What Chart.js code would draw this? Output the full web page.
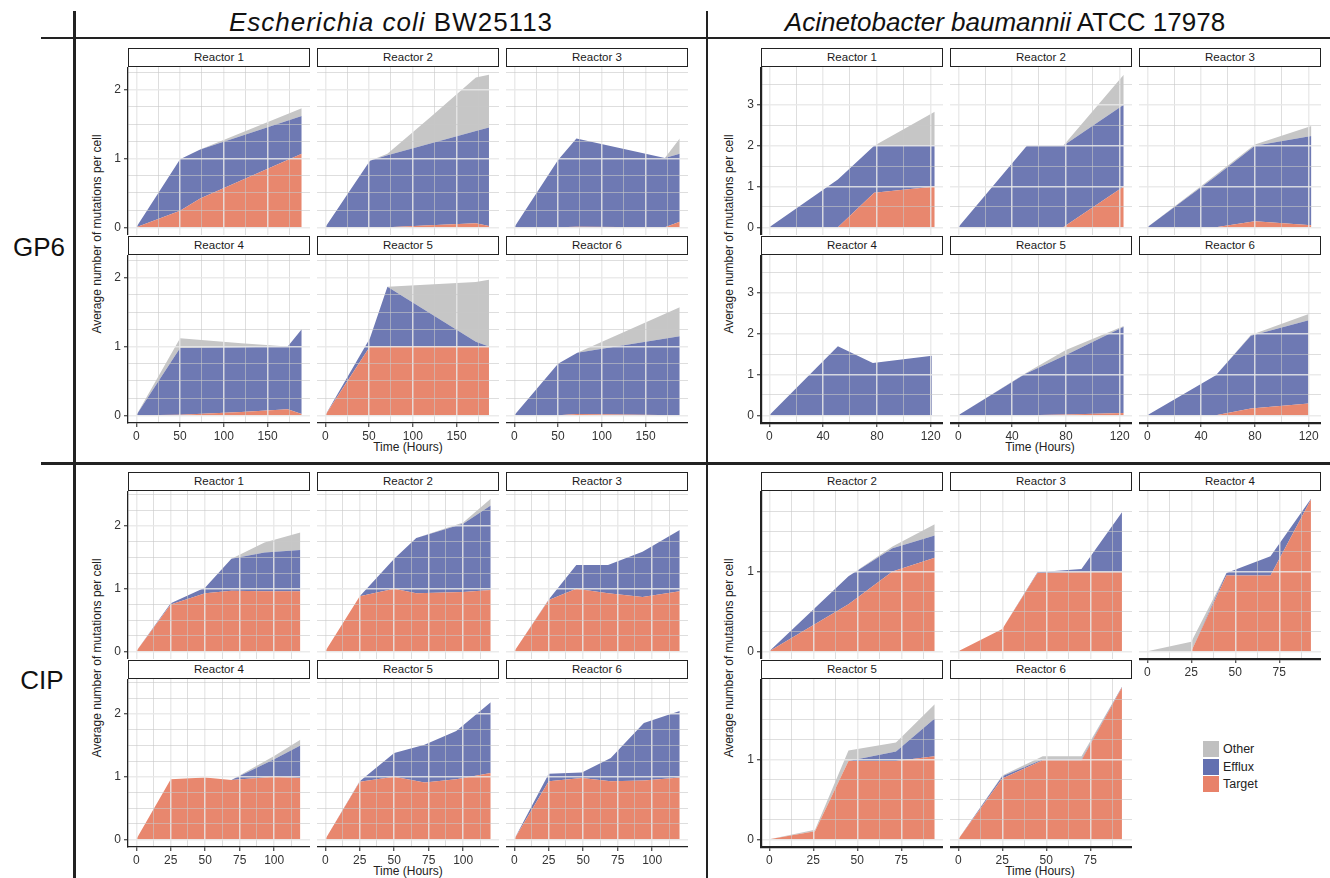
<!DOCTYPE html>
<html>
<head>
<meta charset="utf-8">
<script src="https://cdn.jsdelivr.net/npm/chart.js@4/dist/chart.umd.min.js"></script>
<style>
  body { margin: 0; background: #fff; font-family: "Liberation Sans", Arial, sans-serif; }
  #page { position: relative; width: 1330px; height: 878px; overflow: hidden; }
  .rule { position: absolute; background: #222; }
  .strip { position: absolute; box-sizing: border-box; border: 1.4px solid #222; background: #fff;
           font-size: 11.5px; color: #1a1a1a; text-align: center; line-height: 16px; }
  .title { position: absolute; font-size: 26px; color: #111; white-space: nowrap; transform: translate(-50%, -50%); }
  .ylab { position: absolute; font-size: 12px; color: #222; white-space: nowrap; transform: translate(-50%, -50%) rotate(-90deg); }
  .xlab { position: absolute; font-size: 12px; color: #222; white-space: nowrap; transform: translate(-50%, -50%); }
  .key { position: absolute; width: 16px; height: 16px; }
  .keytext { position: absolute; font-size: 12.5px; color: #222; line-height: 16px; }
  canvas { position: absolute; }
</style>
</head>
<body>
<div id="page">
  <div class="rule" style="left:73px;top:11px;width:2.7px;height:867px"></div>
  <div class="rule" style="left:705.5px;top:11px;width:2.5px;height:867px"></div>
  <div class="rule" style="left:41px;top:37.3px;width:1289px;height:2px"></div>
  <div class="rule" style="left:41px;top:462.3px;width:1289px;height:2.7px"></div>

  <div class="title" style="left:391px;top:22px;letter-spacing:1px"><i>Escherichia coli</i> BW25113</div>
  <div class="title" style="left:1005px;top:22px"><i>Acinetobacter baumannii</i> ATCC 17978</div>
  <div class="title" style="left:39px;top:247px">GP6</div>
  <div class="title" style="left:42px;top:680px">CIP</div>

  <div class="ylab" style="left:97px;top:234px">Average number of mutations per cell</div>
  <div class="ylab" style="left:729px;top:234px">Average number of mutations per cell</div>
  <div class="ylab" style="left:97px;top:658px">Average number of mutations per cell</div>
  <div class="ylab" style="left:729px;top:658px">Average number of mutations per cell</div>

  <div class="xlab" style="left:408px;top:447px">Time (Hours)</div>
  <div class="xlab" style="left:1040px;top:447px">Time (Hours)</div>
  <div class="xlab" style="left:408px;top:871px">Time (Hours)</div>
  <div class="xlab" style="left:1040px;top:871px">Time (Hours)</div>

  <div class="key" style="left:1203px;top:741px;background:#c0c0c0"></div>
  <div class="key" style="left:1203px;top:758.5px;background:#6370b0"></div>
  <div class="key" style="left:1203px;top:776px;background:#e8826a"></div>
  <div class="keytext" style="left:1223px;top:741px">Other</div>
  <div class="keytext" style="left:1223px;top:758.5px">Efflux</div>
  <div class="keytext" style="left:1223px;top:776px">Target</div>
</div>

<script>
// ---- data ----
const reactorsAll = ['Reactor 1', 'Reactor 2', 'Reactor 3', 'Reactor 4', 'Reactor 5', 'Reactor 6'];
const reactorsAbCip = ['Reactor 2', 'Reactor 3', 'Reactor 4', 'Reactor 5', 'Reactor 6'];

// E. coli BW25113, GP6
const ecGp6Time = [[0, 50, 73, 189], [0, 51, 71, 120, 172, 187], [0, 50, 71, 172, 189],
                   [0, 50, 120, 173, 189], [0, 51, 71, 172, 187], [0, 50, 72, 189]];
const ecGp6Target = [[0, 0.24, 0.42, 1.07], [0, 0, 0, 0.03, 0.06, 0.02], [0, 0, 0.01, 0, 0.08],
                     [0, 0.01, 0.05, 0.09, 0.02], [0, 1.0, 1.0, 1.0, 1.0], [0, 0, 0.02, 0]];
const ecGp6Efflux = [[0, 0.75, 0.71, 0.55], [0, 0.97, 1.05, 1.19, 1.34, 1.43], [0, 0.98, 1.28, 1.01, 0.99],
                     [0, 0.97, 0.94, 0.91, 1.23], [0, 0.12, 0.87, 0.07, 0], [0, 0.75, 0.89, 1.15]];
const ecGp6Other = [[0, 0, 0, 0.11], [0, 0, 0.02, 0.38, 0.78, 0.77], [0, 0, 0, 0, 0.22],
                    [0, 0.14, 0.06, 0, 0], [0, 0, 0, 0.87, 0.97], [0, 0, 0, 0.42]];

// A. baumannii ATCC 17978, GP6
const abGp6Time = [[0, 51, 78, 123], [0, 51, 78, 123], [0, 51, 80, 122],
                   [0, 51, 77, 121], [0, 50, 80, 123], [0, 51, 77, 120]];
const abGp6Target = [[0, 0, 0.85, 1.0], [0, 0, 0, 1.0], [0, 0, 0.15, 0.05],
                     [0, 0, 0, 0], [0, 0, 0.02, 0.06], [0, 0, 0.17, 0.29]];
const abGp6Efflux = [[0, 1.17, 1.15, 1.0], [0, 2.0, 2.0, 2.0], [0, 1.25, 1.85, 2.19],
                     [0, 1.69, 1.28, 1.46], [0, 1.02, 1.46, 2.11], [0, 0.98, 1.78, 2.04]];
const abGp6Other = [[0, 0, 0, 0.83], [0, 0, 0, 0.74], [0, 0.04, 0.03, 0.24],
                    [0, 0, 0, 0], [0, 0.01, 0.12, 0.02], [0, 0, 0.02, 0.15]];

// E. coli BW25113, CIP
const ecCipTime = [[0, 25, 50, 69, 93, 119], [0, 25, 50, 66, 100, 120], [0, 25, 45, 68, 93, 120],
                   [0, 25, 50, 69, 100, 119], [0, 25, 50, 72, 95, 120], [0, 25, 49, 70, 94, 120]];
const ecCipTarget = [[0, 0.75, 0.93, 0.97, 0.96, 0.96], [0, 0.88, 1.0, 0.93, 0.95, 0.98], [0, 0.82, 1.0, 0.93, 0.87, 0.96],
                     [0, 0.96, 0.99, 0.95, 1.0, 0.98], [0, 0.92, 1.0, 0.91, 0.96, 1.06], [0, 0.93, 0.98, 0.93, 0.94, 0.99]];
const ecCipEfflux = [[0, 0.02, 0.09, 0.51, 0.62, 0.66], [0, 0, 0.48, 0.88, 1.09, 1.35], [0, 0.01, 0.38, 0.45, 0.72, 0.98],
                     [0, 0, 0, 0, 0.28, 0.52], [0, 0.01, 0.38, 0.60, 0.77, 1.13], [0, 0.12, 0.09, 0.37, 0.92, 1.06]];
const ecCipOther = [[0, 0, 0, 0, 0.16, 0.28], [0, 0, 0, 0, 0.02, 0.11], [0, 0, 0, 0, 0, 0],
                    [0, 0, 0, 0, 0.05, 0.09], [0, 0, 0, 0, 0, 0], [0, 0, 0, 0, 0, 0]];

// A. baumannii ATCC 17978, CIP (no Reactor 1)
const abCipTime = [[0, 45, 70, 94], [0, 25, 45, 70, 93], [0, 25, 45, 70, 93], [0, 26, 45, 72, 94], [0, 25, 48, 70, 93]];
const abCipTarget = [[0, 0.59, 1.0, 1.17], [0, 0.28, 0.98, 0.99, 0.99], [0, 0, 0.95, 0.95, 1.9],
                     [0, 0.1, 0.98, 0.98, 1.04], [0, 0.76, 0.99, 0.99, 1.9]];
const abCipEfflux = [[0, 0.35, 0.29, 0.28], [0, 0, 0.01, 0.04, 0.75], [0, 0, 0.03, 0.24, 0.01],
                     [0, 0, 0, 0.12, 0.47], [0, 0.03, 0.01, 0.01, 0.01]];
const abCipOther = [[0, 0, 0.02, 0.14], [0, 0, 0, 0, 0], [0, 0.12, 0, 0, 0],
                    [0, 0.02, 0.13, 0.11, 0.18], [0, 0.01, 0.04, 0.04, 0]];

// tick labels
const ecGp6XTicks = [0, 50, 100, 150];
const abGp6XTicks = [0, 40, 80, 120];
const ecCipXTicks = [0, 25, 50, 75, 100];
const abCipXTicks = [0, 25, 50, 75];
const ecGp6YTicks = [0, 1, 2];
const abGp6YTicks = [0, 1, 2, 3];
const ecCipYTicks = [0, 1, 2];
const abCipYTicks = [0, 1];

// ---- layout / style ----
const page = document.getElementById('page');
const PW = 182, PH = 168, STRIP = 19;
const colsLeft = [128, 317, 506];
const colsRight = [761, 950, 1139];
const rowsGp6 = [67, 255];
const rowsCip = [491, 679];
const FONT = "'Liberation Sans', Arial, sans-serif";
const colTarget = '#e8876e';
const colEfflux = '#6e79b3';
const colOther = '#c6c6c6';

const steps = (to, step) => { const out = []; for (let v = 0; v <= to + 1e-9; v += step) out.push(v); return out; };

const quadrants = [
  { names: reactorsAll, time: ecGp6Time, target: ecGp6Target, efflux: ecGp6Efflux, other: ecGp6Other,
    cols: colsLeft, rows: rowsGp6, xMin: -9.45, xMax: 198.45, yMin: -0.111, yMax: 2.331,
    xGrid: steps(175, 25), yGrid: steps(2.25, 0.25), xTicks: ecGp6XTicks, yTicks: ecGp6YTicks, axisW: 1.3 },
  { names: reactorsAll, time: abGp6Time, target: abGp6Target, efflux: abGp6Efflux, other: abGp6Other,
    cols: colsRight, rows: rowsGp6, xMin: -6.15, xMax: 129.15, yMin: -0.187, yMax: 3.927,
    xGrid: steps(120, 20), yGrid: steps(3.5, 0.5), xTicks: abGp6XTicks, yTicks: abGp6YTicks, axisW: 2.2 },
  { names: reactorsAll, time: ecCipTime, target: ecCipTarget, efflux: ecCipEfflux, other: ecCipOther,
    cols: colsLeft, rows: rowsCip, xMin: -6, xMax: 126, yMin: -0.122, yMax: 2.562,
    xGrid: steps(112.5, 12.5), yGrid: steps(2.5, 0.25), xTicks: ecCipXTicks, yTicks: ecCipYTicks, axisW: 1.3 },
  { names: reactorsAbCip, time: abCipTime, target: abCipTarget, efflux: abCipEfflux, other: abCipOther,
    cols: colsRight, rows: rowsCip, xMin: -4.7, xMax: 98.7, yMin: -0.0955, yMax: 2.0055,
    xGrid: steps(87.5, 12.5), yGrid: steps(1.75, 0.25), xTicks: abCipXTicks, yTicks: abCipYTicks, axisW: 2.2 },
];

function axis(q, which, show) {
  const labels = which == 'x' ? q.xTicks : q.yTicks;
  const grid = which == 'x' ? q.xGrid : q.yGrid;
  const isLab = ctx => ctx.tick && labels.includes(ctx.tick.value);
  return {
    type: 'linear',
    bounds: 'data',
    stacked: which == 'y',
    min: which == 'x' ? q.xMin : q.yMin,
    max: which == 'x' ? q.xMax : q.yMax,
    afterBuildTicks: s => { s.ticks = grid.map(v => ({ value: v })); },
    afterFit: s => {
      if (which == 'x') s.height = show ? 24 : 0; else s.width = show ? 30 : 0;
      s.paddingTop = 0; s.paddingBottom = 0; s.paddingLeft = 0; s.paddingRight = 0;
    },
    ticks: {
      display: show,
      autoSkip: false,
      maxRotation: 0,
      minRotation: 0,
      padding: which == 'x' ? 2 : 3,
      color: '#333',
      font: { family: FONT, size: 12 },
      callback: v => labels.includes(v) ? String(v) : '',
    },
    grid: {
      z: 1, // grid is drawn over the areas, like the original
      color: ctx => isLab(ctx) ? 'rgba(232,232,232,0.85)' : 'rgba(200,200,200,0.75)',
      lineWidth: ctx => isLab(ctx) ? 1.5 : 0.8,
      drawTicks: show,
      tickLength: 4,
      tickColor: ctx => isLab(ctx) ? '#333' : 'rgba(0,0,0,0)',
      tickWidth: 1.1,
    },
    border: { display: show, color: '#222', width: q.axisW, z: 2 },
  };
}

function makePanel(q, i) {
  const col = i % 3, row = Math.floor(i / 3);
  const left = q.cols[col], top = q.rows[row];
  const showY = col == 0;
  const showX = row == 1 || i + 3 >= q.time.length;

  const strip = document.createElement('div');
  strip.className = 'strip';
  strip.style.cssText = `left:${left}px;top:${top - STRIP}px;width:${PW}px;height:${STRIP}px`;
  strip.textContent = q.names[i];
  page.appendChild(strip);

  const yw = showY ? 30 : 0, xh = showX ? 24 : 0;
  const canvas = document.createElement('canvas');
  canvas.width = PW + yw;
  canvas.height = PH + xh;
  canvas.style.cssText = `left:${left - yw}px;top:${top}px;width:${PW + yw}px;height:${PH + xh}px`;
  page.appendChild(canvas);

  const pts = arr => q.time[i].map((t, k) => ({ x: t, y: arr[k] }));
  const area = (label, arr, color, fill) => ({
    label, data: pts(arr), fill, backgroundColor: color,
    borderWidth: 0, borderColor: 'rgba(0,0,0,0)', pointRadius: 0, tension: 0,
  });

  new Chart(canvas, {
    type: 'line',
    data: {
      datasets: [
        area('Target', q.target[i], colTarget, 'origin'),
        area('Efflux', q.efflux[i], colEfflux, '-1'),
        area('Other', q.other[i], colOther, '-1'),
      ],
    },
    options: {
      responsive: false,
      animation: false,
      devicePixelRatio: 1,
      events: [],
      layout: { padding: 0 },
      plugins: { legend: { display: false }, tooltip: { enabled: false } },
      scales: { x: axis(q, 'x', showX), y: axis(q, 'y', showY) },
    },
  });
}

for (const q of quadrants) {
  q.time.forEach((_, i) => makePanel(q, i));
}
</script>
</body>
</html>
